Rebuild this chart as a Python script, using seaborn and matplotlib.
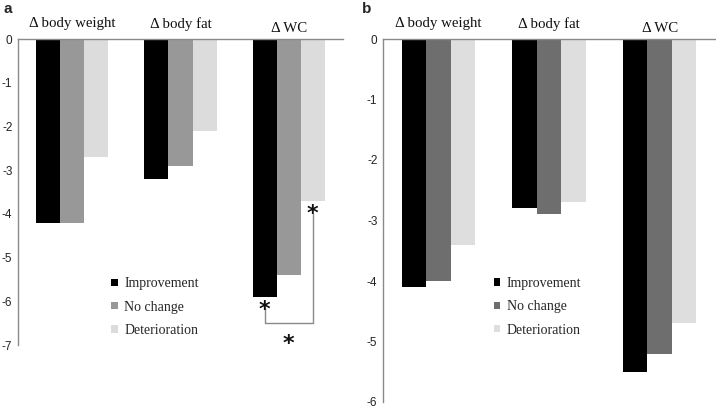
import matplotlib
matplotlib.use("Agg")
import matplotlib.pyplot as plt
import matplotlib.patches as mpatches
import matplotlib.transforms as mtransforms
import seaborn as sns
import pandas as pd

measures = ["\u0394 body weight", "\u0394 body fat", "\u0394 WC"]
groups = ["Improvement", "No change", "Deterioration"]
values_a = {
    "Improvement": [-4.2, -3.2, -5.9],
    "No change": [-4.2, -2.9, -5.4],
    "Deterioration": [-2.7, -2.1, -3.7],
}
values_b = {
    "Improvement": [-4.1, -2.8, -5.5],
    "No change": [-4.0, -2.9, -5.2],
    "Deterioration": [-3.4, -2.7, -4.7],
}
yticks_a = [0, -1, -2, -3, -4, -5, -6, -7]
yticks_b = [0, -1, -2, -3, -4, -5, -6]
colors_a = ["#000000", "#989898", "#dcdcdc"]
colors_b = ["#000000", "#6e6e6e", "#dedede"]


def long_df(values):
    rows = []
    for g in groups:
        for m, v in zip(measures, values[g]):
            rows.append({"measure": m, "group": g, "value": v})
    return pd.DataFrame(rows)


sns.set_style("white")
plt.rcParams["axes.unicode_minus"] = False
plt.rcParams["font.family"] = ["Liberation Sans", "DejaVu Sans"]

fig = plt.figure(figsize=(7.16, 4.09), dpi=100)
W, H = 716, 409
ax_a = fig.add_axes([18 / W, 1 - 345 / H, (343 - 18) / W, (345 - 39) / H])
ax_b = fig.add_axes([383 / W, 1 - 402 / H, (715 - 383) / W, (402 - 39) / H])

serif = ["Liberation Serif", "DejaVu Serif"]


def draw(ax, values, colors, yticks, ylim, legend_xy):
    df = long_df(values)
    sns.barplot(data=df, x="measure", y="value", hue="group", order=measures,
                hue_order=groups, palette=colors, width=0.665, saturation=1,
                linewidth=0, errorbar=None, legend=False, ax=ax)
    ax.set_ylim(ylim, 0)
    ax.set_xlim(-0.5, 2.5)
    ax.set_yticks(yticks)
    ax.set_yticklabels([str(t) for t in yticks], fontsize=8.5, color="#222222")
    ax.tick_params(axis="y", length=0, pad=4)
    ax.set_xticks([])
    ax.set_xlabel("")
    ax.set_ylabel("")
    for side in ["right", "bottom"]:
        ax.spines[side].set_visible(False)
    for side in ["left", "top"]:
        ax.spines[side].set_visible(True)
        ax.spines[side].set_color("#8a8a8a")
        ax.spines[side].set_linewidth(1.0)
    trans = mtransforms.blended_transform_factory(ax.transData, ax.transAxes)
    for i, m in enumerate(measures):
        off = 15 if i < 2 else 11
        ax.annotate(m, xy=(i, 1), xycoords=trans, xytext=(0, off),
                    textcoords="offset pixels", ha="center", va="center",
                    fontsize=10.7, family=serif, color="#111111")
    handles = [mpatches.Patch(color=c, linewidth=0) for c in colors]
    ax.legend(handles, groups, loc="center left", bbox_to_anchor=legend_xy,
              frameon=False, prop={"family": serif, "size": 10},
              handlelength=0.45, handleheight=0.45, handletextpad=0.5,
              labelspacing=0.74, borderpad=0, borderaxespad=0)


draw(ax_a, values_a, colors_a, yticks_a, -7, (0.287, 0.124))
draw(ax_b, values_b, colors_b, yticks_b, -6, (0.333, 0.262))

# significance annotations on panel a (WC group)
bars = ax_a.patches
n = len(measures)
imp_bar = bars[0 * n + 2]
det_bar = bars[2 * n + 2]
x_imp = imp_bar.get_x() + imp_bar.get_width() / 2
x_det = det_bar.get_x() + det_bar.get_width() / 2
ax_a.plot([x_imp, x_imp, x_det, x_det], [-6.15, -6.5, -6.5, -4.0],
          color="#8a8a8a", lw=1.0, clip_on=False)
star_kw = dict(ha="center", va="center", fontsize=16, color="#111111",
               family=["DejaVu Sans"], fontweight="bold")
ax_a.text(x_imp, -6.2, "*", **star_kw)
ax_a.text(x_det, -4.0, "*", **star_kw)
ax_a.text((x_imp + x_det) / 2, -6.98, "*", **star_kw)

fig.text(4 / W, 1 - 9 / H, "a", fontsize=11, fontweight="bold", va="center",
         ha="left")
fig.text(362 / W, 1 - 9 / H, "b", fontsize=11, fontweight="bold", va="center",
         ha="left")

fig.savefig("out.png", dpi=100)
